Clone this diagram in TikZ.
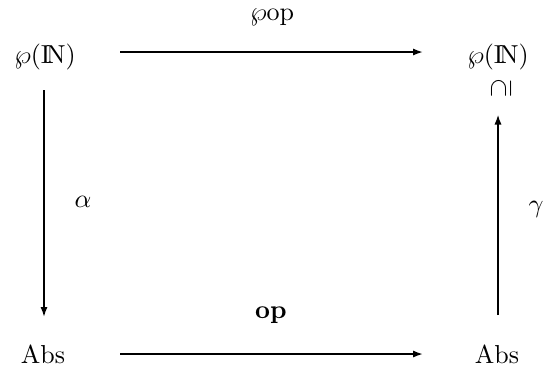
\documentclass[tikz,border=0pt]{standalone}
\usepackage{graphicx}
\usetikzlibrary{calc,arrows.meta}
\newcommand{\sctxt}[1]{\scalebox{1.3}{#1}}
\begin{document}
\begin{tikzpicture}[x=0.5pt,y=-0.5pt,
  lbl/.style={inner sep=0pt,anchor=base},
  arr/.style={-{Latex[length=5pt,width=3.6pt]},line width=0.9pt}]
\useasboundingbox (0,0) rectangle (544,372);
\node[lbl] (a) at (45,63) {\sctxt{$\wp(\mathrm{I\!N})$}};
\node[lbl] (b) at (498,63) {\sctxt{$\wp(\mathrm{I\!N})$}};
\node[inner sep=0pt,anchor=center] (s) at (501,88) {\sctxt{\rotatebox{90}{$\supseteq$}}};
\node[lbl] (c) at (43,363) {\sctxt{Abs}};
\node[lbl] (d) at (497,363) {\sctxt{Abs}};
\node[lbl] (top) at (272,20) {\sctxt{$\wp$op}};
\node[lbl] (bot) at (271,318) {\sctxt{\textbf{op}}};
\node[lbl] (al) at (83,207) {\sctxt{$\alpha$}};
\node[lbl] (ga) at (536,212) {\sctxt{$\gamma$}};
\draw[arr] ($(a.base)+(75,-11)$) -- ($(b.base)+(-75,-11)$);
\draw[arr] ($(c.base)+(77,-9)$) -- ($(d.base)+(-74,-9)$);
\draw[arr] ($(a.base)+(-1,27)$) -- ($(c.base)+(1,-46)$);
\draw[arr] ($(d.base)+(1,-48)$) -- ($(s.south)+(-3,16)$);
\end{tikzpicture}
\end{document}
